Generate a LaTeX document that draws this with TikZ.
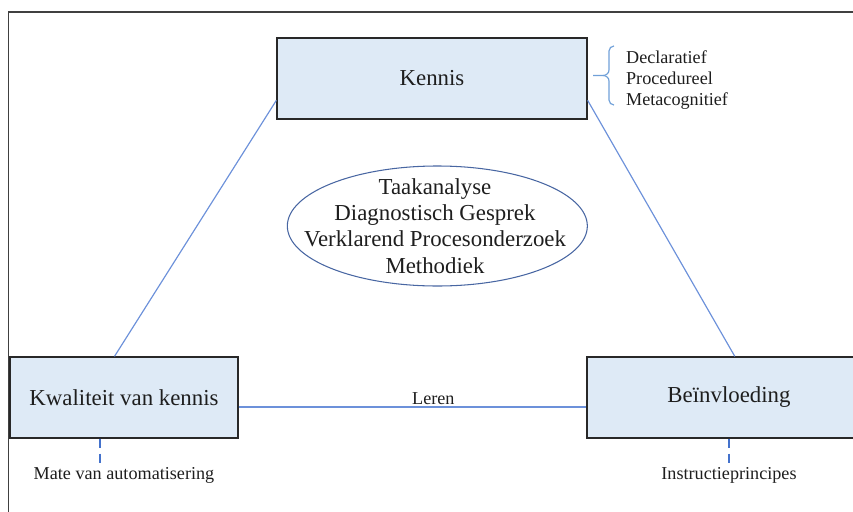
\documentclass[tikz,border=0pt]{standalone}
\usepackage{fontspec}
\setmainfont{Liberation Serif}

\definecolor{boxfill}{RGB}{222,234,246}
\definecolor{boxedge}{RGB}{40,40,40}
\definecolor{linkblue}{RGB}{108,145,218}
\definecolor{dashblue}{RGB}{68,114,204}
\definecolor{ovalblue}{RGB}{72,102,162}
\definecolor{braceblue}{RGB}{112,160,216}
\definecolor{inkgray}{RGB}{30,30,30}

\begin{document}
\begin{tikzpicture}[x=0.3mm, y=-0.3mm, node distance=23.5mm, block/.style={rectangle, draw=boxedge, fill=boxfill, line width=1.1pt, minimum height=24.3mm, text=inkgray, font=\fontsize{19.5}{22.5}\selectfont}, sublabel/.style={text=inkgray, font=\fontsize{15.5}{18}\selectfont}, link/.style={draw=linkblue, line width=1pt}, dashlink/.style={draw=dashblue, line width=2pt, dash pattern=on 2.7mm off 1.8mm}]

  \useasboundingbox (0,0) rectangle (853,511);
  \draw[inkgray!85, line width=1.2pt] (8.5,515) -- (8.5,12) -- (860,12);

  \node[block, minimum width=93mm] (kennis) at (432,78.5) {Kennis};
  \node[block, minimum width=68.4mm] (kwaliteit) at (124,397.5) {Kwaliteit van kennis};
  \node[block, minimum width=85.2mm, right of=kwaliteit, node distance=181.5mm] (beinvloeding) {Beïnvloeding};

  \node[sublabel, below of=kwaliteit] (automat) {Mate van automatisering};
  \node[sublabel, below of=beinvloeding] (instructie) {Instructieprincipes};
  \node[sublabel, anchor=west, align=left] (soorten) at (622,80) {Declaratief\\Procedureel\\Metacognitief};

  \node[align=center, text=inkgray, font=\fontsize{19.5}{22.5}\selectfont] (methoden) at (435,226) {Taakanalyse\\Diagnostisch Gesprek\\Verklarend Procesonderzoek\\Methodiek};
  \draw[ovalblue, line width=0.9pt] ([xshift=0.7mm]methoden.center) ellipse [x radius=45mm, y radius=18mm];

  \coordinate (bracetop) at (614,46);
  \coordinate (bracetip) at (593,75.5);
  \coordinate (bracebot) at (614,105);
  \draw[braceblue, line width=1pt] (bracetop) to[out=180, in=90] (609,51) -- (609,70) to[out=-90, in=0] (603,75.5) -- (bracetip);
  \draw[braceblue, line width=1pt] (603,75.5) to[out=0, in=90] (609,81) -- (609,100) to[out=-90, in=180] (bracebot);

  \draw[link] (kennis.188) -- (kwaliteit.103);
  \draw[link] (kennis.352) -- (beinvloeding.82);
  \draw[link] ([yshift=-2.85mm]kwaliteit.east) -- node[above, pos=0.56, inner sep=1.5pt, sublabel] {Leren} ([yshift=-2.85mm]beinvloeding.west);
  \draw[dashlink] ([xshift=-7.2mm]kwaliteit.south) -- ([xshift=-7.2mm]kwaliteit.south |- automat.north);
  \draw[dashlink] (beinvloeding.south) -- (instructie.north);
\end{tikzpicture}
\end{document}
